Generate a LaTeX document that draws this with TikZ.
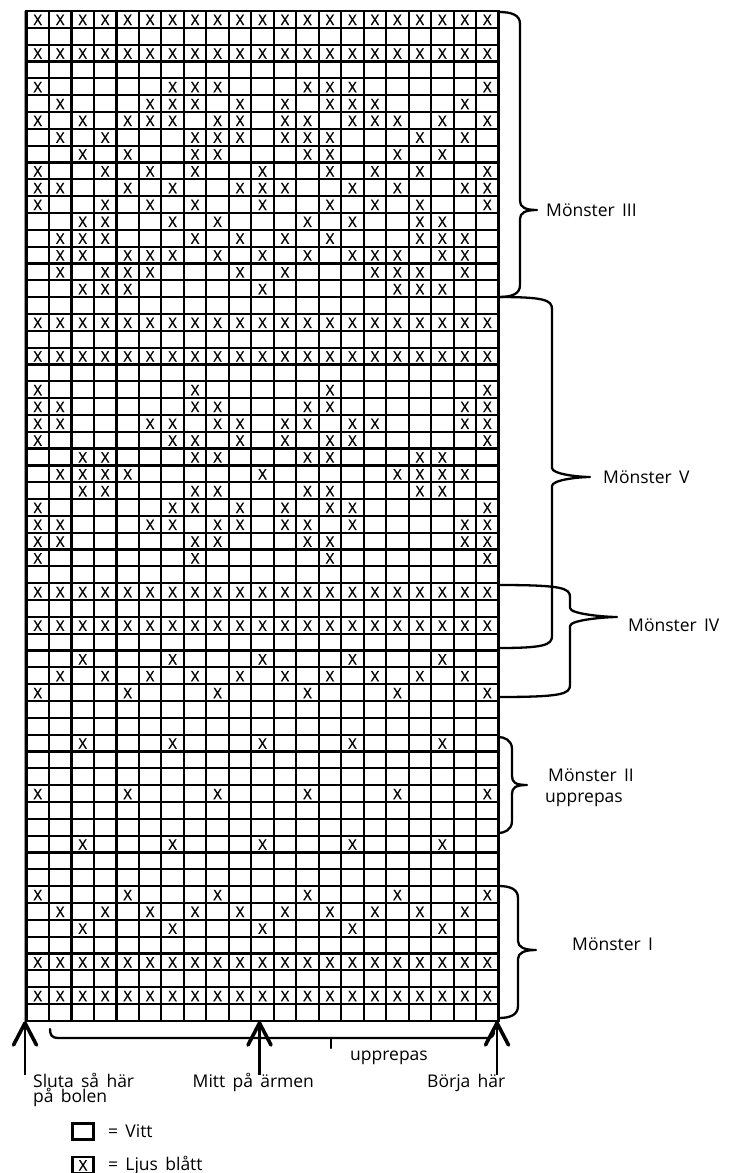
\documentclass[tikz,border=0pt]{standalone}
\usepackage{fontspec}
\usetikzlibrary{calc}
\newfontfamily\labfont[WordSpace=1.6]{Open Sans}
\newfontfamily\cellfont[FakeBold=1]{Open Sans}
\tikzset{
 gridline/.style={line width=2.2pt, black},
 cellx/.style={font=\cellfont\fontsize{14.5}{16}\selectfont, anchor=base, inner sep=0pt},
 brc/.style={line width=2.3pt, line cap=round, line join=round},
 lab/.style={font=\labfont\fontsize{17.5}{19}\selectfont, anchor=base west, inner sep=0pt},
 arrowline/.style={line width=2.2pt},
 arrowhead/.style={line width=3.6pt, line cap=round, line join=round},
 legbox/.style={draw, line width=2.4pt, minimum width=21pt, minimum height=16pt, inner sep=0pt}
}
\newcommand\mybrace[5]{%
 \draw[brc] (498.5,#1) .. controls (#3-8,#1) and (#3,#1+3) .. (#3,#1+12) -- (#3,#5-9) .. controls (#3,#5-3) and (#4-12,#5) .. (#4,#5) .. controls (#4-12,#5) and (#3,#5+3) .. (#3,#5+9) -- (#3,#2-12) .. controls (#3,#2-3) and (#3-8,#2) .. (498.5,#2);}
\begin{document}
\begin{tikzpicture}[x=1pt,y=-1pt]
\useasboundingbox (0,0) rectangle (735,1173);
\fill[white] (0,0) rectangle (735,1173);
\def\gx{26.5}\def\cw{22.48}\def\gy{11}\def\rh{16.83}
% grid
\draw[line width=1pt, black!40] (\gx-2.2,\gy) -- (\gx-2.2,{\gy+60*\rh});
\foreach \i in {0,...,21} \draw[gridline] ({\gx+\i*\cw},\gy) -- ({\gx+\i*\cw},{\gy+60*\rh});
\foreach \j in {0,...,60} \draw[gridline] (\gx-1.1,{\gy+\j*\rh}) -- ({\gx+21*\cw+1.1},{\gy+\j*\rh});
% marked cells
\foreach \r/\cs in {
 1/{1,...,21}, 3/{1,...,21},
 5/{1,7,8,9,13,14,15,21},
 6/{2,6,7,8,10,12,14,15,16,20},
 7/{1,3,5,6,7,9,10,12,13,15,16,17,19,21},
 8/{2,4,8,9,10,12,13,14,18,20},
 9/{3,5,8,9,13,14,17,19},
 10/{1,4,6,8,11,14,16,18,21},
 11/{1,2,5,7,10,11,12,15,17,20,21},
 12/{1,4,6,8,11,14,16,18,21},
 13/{3,4,7,9,13,15,18,19},
 14/{2,3,4,8,10,12,14,18,19,20},
 15/{2,3,5,6,7,9,11,13,15,16,17,19,20},
 16/{2,4,5,6,10,12,16,17,18,20},
 17/{3,4,5,11,17,18,19},
 19/{1,...,21}, 21/{1,...,21},
 23/{1,8,14,21},
 24/{1,2,8,9,13,14,20,21},
 25/{1,2,6,7,9,10,12,13,15,16,20,21},
 26/{1,7,8,10,12,14,15,21},
 27/{3,4,8,9,13,14,18,19},
 28/{2,3,4,5,11,17,18,19,20},
 29/{3,4,8,9,13,14,18,19},
 30/{1,7,8,10,12,14,15,21},
 31/{1,2,6,7,9,10,12,13,15,20,21},
 32/{1,2,8,9,13,14,20,21},
 33/{1,8,14,21},
 35/{1,...,21}, 37/{1,...,21},
 39/{3,7,11,15,19},
 40/{2,4,6,8,10,12,14,16,18,20},
 41/{1,5,9,13,17,21},
 44/{3,7,11,15,19},
 47/{1,5,9,13,17,21},
 50/{3,7,11,15,19},
 53/{1,5,9,13,17,21},
 54/{2,4,6,8,10,12,14,16,18,20},
 55/{3,7,11,15,19},
 57/{1,...,21}, 59/{1,...,21}}
{
 \foreach \c in \cs {
  \node[cellx] (x\r-\c) at ({\gx+(\c-0.5)*\cw},{\gy+\r*\rh-2.8}) {X};
 }
}
% braces on the right
\mybrace{12}{297}{520}{537}{210}
\mybrace{297}{648}{552}{590}{477}
\mybrace{585}{697}{570}{617}{617}
\mybrace{737}{833}{512}{527}{785}
\mybrace{886}{1018}{518}{536}{950}
\node[lab] (m3) at (546,216) {Mönster III};
\node[lab] (m5) at (603,483) {Mönster V};
\node[lab] (m4) at (628,631) {Mönster IV};
\node[lab] (m2) at (548,781) {Mönster II};
\node[lab] (m2b) at (545,802) {upprepas};
\node[lab] (m1) at (572,950) {Mönster I};
% bottom bracket
\draw[brc] (50,1029) .. controls (50,1035) and (52,1038) .. (58,1038) -- (488,1038) .. controls (492,1038) and (494,1035) .. (494,1031);
\draw[brc] (331,1038) -- (331,1048);
\node[lab] (rep) at (350,1060) {upprepas};
% arrows
\foreach \n/\ax in {a/25, b/259.5, c/497}{
 \coordinate (\n t) at (\ax,1023);
 \coordinate (\n b) at (\ax,1075);
 \draw[arrowline] (\n b) -- (\n t);
 \draw[arrowhead] ($(\n t)+(-11.5,22)$) -- (\n t) -- ($(\n t)+(11.5,22)$);
}
\node[lab] (t1) at (33,1087) {Sluta så här};
\node[lab] (t1b) at (33,1102.5) {på bolen};
\node[lab] (t2) at (192.5,1087) {Mitt på ärmen};
\node[lab] (t3) at (427,1087) {Börja här};
% legend
\node[legbox] (lb1) at (83,1131.5) {};
\node[legbox] (lb2) at (83,1165) {};
\node[cellx] (lbx) at (83,1170.5) {X};
\node[lab] (l1) at (108,1137) {= Vitt};
\node[lab] (l2) at (108,1170.5) {= Ljus blått};
\end{tikzpicture}
\end{document}
